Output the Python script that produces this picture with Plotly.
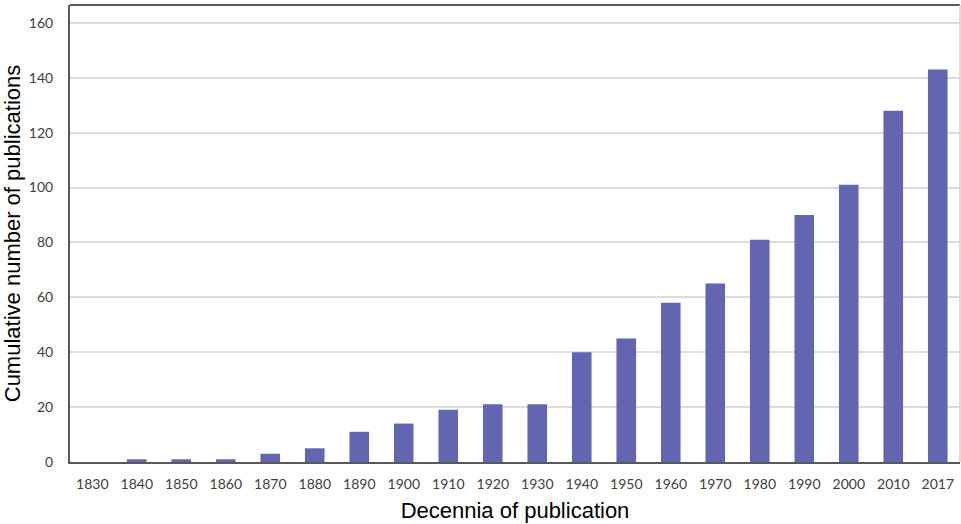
import plotly.graph_objects as go

decades = ["1830", "1840", "1850", "1860", "1870", "1880", "1890", "1900", "1910", "1920",
           "1930", "1940", "1950", "1960", "1970", "1980", "1990", "2000", "2010", "2017"]
cumulative = [0, 1, 1, 1, 3, 5, 11, 14, 19, 21, 21, 40, 45, 58, 65, 81, 90, 101, 128, 143]

fig = go.Figure()
fig.add_trace(go.Bar(
    x=decades, y=cumulative,
    marker=dict(color="#6265B0", line=dict(width=0)),
    width=0.44,
))

fig.update_layout(
    width=961, height=524,
    margin=dict(l=70, r=1, t=5, b=62),
    paper_bgcolor="white", plot_bgcolor="white",
    showlegend=False,
    font=dict(family="Lato, Open Sans, sans-serif", color="#404040", size=14),
    xaxis=dict(
        type="category",
        showline=True, linecolor="#595959", linewidth=2,
        showgrid=False, ticks="", ticklabelstandoff=8,
        tickfont=dict(size=14, color="#404040"),
        title=dict(text="Decennia of publication", standoff=12,
                   font=dict(family="Liberation Sans, Arial, sans-serif", size=22, color="#000000")),
    ),
    yaxis=dict(
        range=[0, 166.5],
        tickvals=[0, 20, 40, 60, 80, 100, 120, 140, 160],
        showline=True, linecolor="#595959", linewidth=2,
        showgrid=True, gridcolor="#DCDCDC", gridwidth=1.5,
        zeroline=False, ticks="", ticklabelstandoff=12,
        tickfont=dict(size=14, color="#404040"),
        title=dict(text="Cumulative number of publications", standoff=10,
                   font=dict(family="Liberation Sans, Arial, sans-serif", size=22, color="#000000")),
    ),
    shapes=[
        dict(type="line", xref="paper", yref="paper", x0=0, x1=1, y0=1, y1=1,
             line=dict(color="#595959", width=2)),
        dict(type="line", xref="paper", yref="paper", x0=1, x1=1, y0=0, y1=1,
             line=dict(color="#D0D0D0", width=1.5)),
    ],
)

fig.write_html("out.html", config={"displayModeBar": False},
               post_script="document.body.style.margin='0';document.body.style.overflow='hidden';")
